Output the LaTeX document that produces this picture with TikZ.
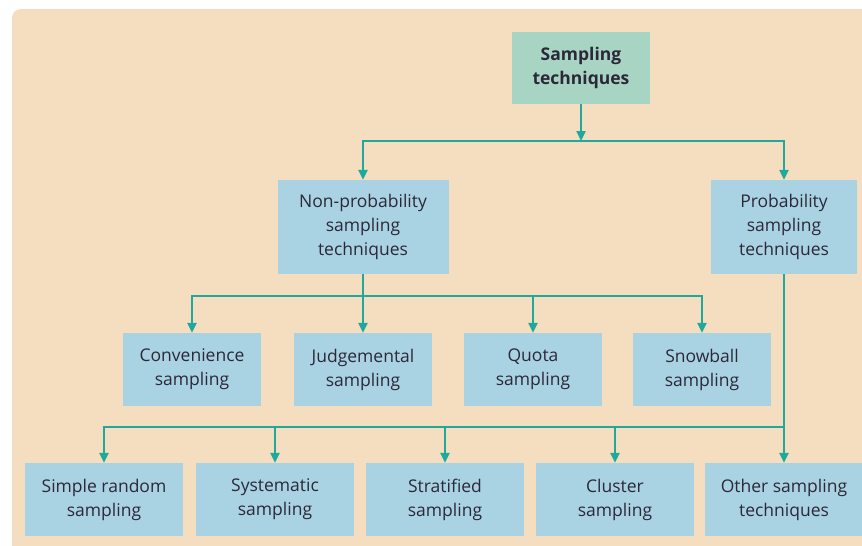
\documentclass[tikz,border=0pt]{standalone}
\usepackage{fontspec}
\setmainfont{Open Sans}
\usetikzlibrary{arrows.meta}
\definecolor{panel}{HTML}{F5DEBF}
\definecolor{boxblue}{HTML}{A9D3E3}
\definecolor{boxmint}{HTML}{A8D5C3}
\definecolor{link}{HTML}{1FA89C}
\definecolor{ink}{HTML}{2B2838}
\begin{document}
\begin{tikzpicture}[x=1pt,y=-1pt,
  box/.style={fill=boxblue, text=ink, align=center, inner sep=0pt,
    font=\fontsize{17.5}{24}\selectfont},
  midbox/.style={box, minimum width=138pt, minimum height=73pt},
  lowbox/.style={box, minimum width=158pt, minimum height=73pt},
  arr/.style={draw=link, line width=2.3pt, -{Triangle[length=10pt,width=9pt]}},
  ln/.style={draw=link, line width=2.3pt}]
\useasboundingbox (0,0) rectangle (862,546);
% panel
\fill[panel, rounded corners=9pt] (12,9) rectangle (880,560);

% nodes
\node[box, fill=boxmint, minimum width=138pt, minimum height=72pt,
  font=\fontsize{17.5}{24}\selectfont\bfseries] (root) at (581,68) {Sampling\\techniques};
\node[box, minimum width=171pt, minimum height=94pt] (nonprob) at (363,227) {Non-probability\\sampling\\techniques};
\node[box, minimum width=146pt, minimum height=94pt] (prob) at (784,227) {Probability\\sampling\\techniques};

\node[midbox] (conv) at (192,369.5) {Convenience\\sampling};
\node[midbox] (judg) at (363,369.5) {Judgemental\\sampling};
\node[midbox] (quota) at (533,369.5) {Quota\\sampling};
\node[midbox] (snow) at (702,369.5) {Snowball\\sampling};

\node[lowbox] (simple) at (104,499.5) {Simple random\\sampling};
\node[lowbox] (syst) at (275,499.5) {Systematic\\sampling};
\node[lowbox] (strat) at (445,499.5) {Stratified\\sampling};
\node[lowbox] (clus) at (615,499.5) {Cluster\\sampling};
\node[lowbox] (other) at (784,499.5) {Other sampling\\techniques};

% branch points
\coordinate (b1) at (581,141);
\coordinate (b2) at (363,296);
\coordinate (b3) at (784,427);

% connectors
\draw[arr] (root.south) -- (b1);
\draw[arr] (b1) -| (nonprob.north);
\draw[arr] (b1) -| (prob.north);

\draw[ln] (nonprob.south) -- (b2);
\draw[arr] (b2) -| (conv.north);
\draw[arr] (b2) -- (judg.north);
\draw[arr] (b2) -| (quota.north);
\draw[arr] (b2) -| (snow.north);

\draw[arr] (prob.south) -- (other.north);
\draw[arr] (b3) -| (simple.north);
\draw[arr] (b3) -| (syst.north);
\draw[arr] (b3) -| (strat.north);
\draw[arr] (b3) -| (clus.north);
\end{tikzpicture}
\end{document}
